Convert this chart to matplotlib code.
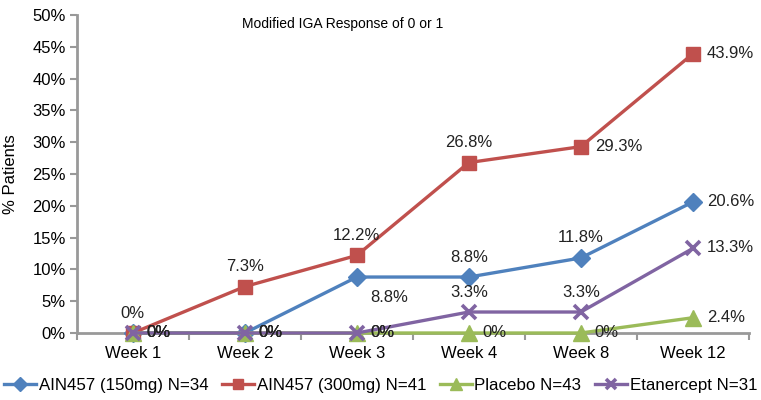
import matplotlib.pyplot as plt
from matplotlib.ticker import FixedLocator, FuncFormatter

plt.rcParams['font.family'] = ['Liberation Sans', 'DejaVu Sans']

weeks = ["Week 1", "Week 2", "Week 3", "Week 4", "Week 8", "Week 12"]
ain150 = [0, 0, 8.8, 8.8, 11.8, 20.6]
ain300 = [0, 7.3, 12.2, 26.8, 29.3, 43.9]
placebo = [0, 0, 0, 0, 0, 2.4]
etanercept = [0, 0, 0, 3.3, 3.3, 13.3]

series = [
    ("AIN457 (150mg) N=34", ain150, "#4F81BD", "D", 9),
    ("AIN457 (300mg) N=41", ain300, "#C0504D", "s", 10),
    ("Placebo N=43", placebo, "#9BBB59", "^", 11),
    ("Etanercept N=31", etanercept, "#8064A2", "x", 10),
]

# label placement per point: 'r' right, 'a' above, 'b' below-right, None no label
places = [
    ["r", "r", "b", "a", "a", "r"],
    ["a", "a", "a", "a", "r", "r"],
    ["r", "r", "r", "r", "r", "r"],
    ["r", "r", "r", "a", "a", "r"],
]
offsets = {"r": (10, -5), "a": (0, 9), "b": (10, -20)}

fig = plt.figure(figsize=(7.61, 4.0), dpi=100)
ax = fig.add_axes([0.101, 0.1675, 0.883, 0.795])
x = list(range(len(weeks)))

for (name, vals, col, mk, ms), pl in zip(series, places):
    ax.plot(x, vals, color=col, lw=2.4, marker=mk, ms=ms, mew=2.6 if mk == "x" else 1,
            mec=col, mfc=col, label=name, clip_on=False, zorder=3)
    for xi, v, p in zip(x, vals, pl):
        if p is None:
            continue
        dx, dy = offsets[p]
        ax.annotate(f"{v:g}%", (xi, v), xytext=(dx, dy), textcoords="offset points",
                    ha="left" if p in ("r", "b") else "center", va="bottom",
                    fontsize=12, color="#222222", zorder=5)

ax.set_xlim(-0.5, 5.5)
ax.set_ylim(0, 50)
ax.set_yticks(range(0, 51, 5))
ax.yaxis.set_major_formatter(FuncFormatter(lambda v, p: f"{v:.0f}%"))
ax.set_xticks(x)
ax.set_xticklabels(weeks)
ax.tick_params(axis="x", which="major", length=0, labelsize=12, pad=9)
ax.xaxis.set_minor_locator(FixedLocator([i - 0.5 for i in range(len(weeks) + 1)]))
ax.tick_params(axis="x", which="minor", length=5, color="#999999", width=1.5)
ax.tick_params(axis="y", length=5, color="#999999", width=1.5, labelsize=12, pad=3)
for s in ("top", "right"):
    ax.spines[s].set_visible(False)
for s in ("left", "bottom"):
    ax.spines[s].set_color("#999999")
    ax.spines[s].set_linewidth(2)

ax.set_ylabel("% Patients", fontsize=12, labelpad=10)
ax.text(1.87, 48.6, "Modified IGA Response of 0 or 1", ha="center",
        va="center", fontsize=10)

fig.legend(loc="lower center", bbox_to_anchor=(0.5, -0.02), ncol=4, frameon=False,
           fontsize=12.2, handlelength=1.9, handletextpad=0.15, columnspacing=0.8,
           markerscale=0.75)

fig.savefig("out.png", dpi=100)
